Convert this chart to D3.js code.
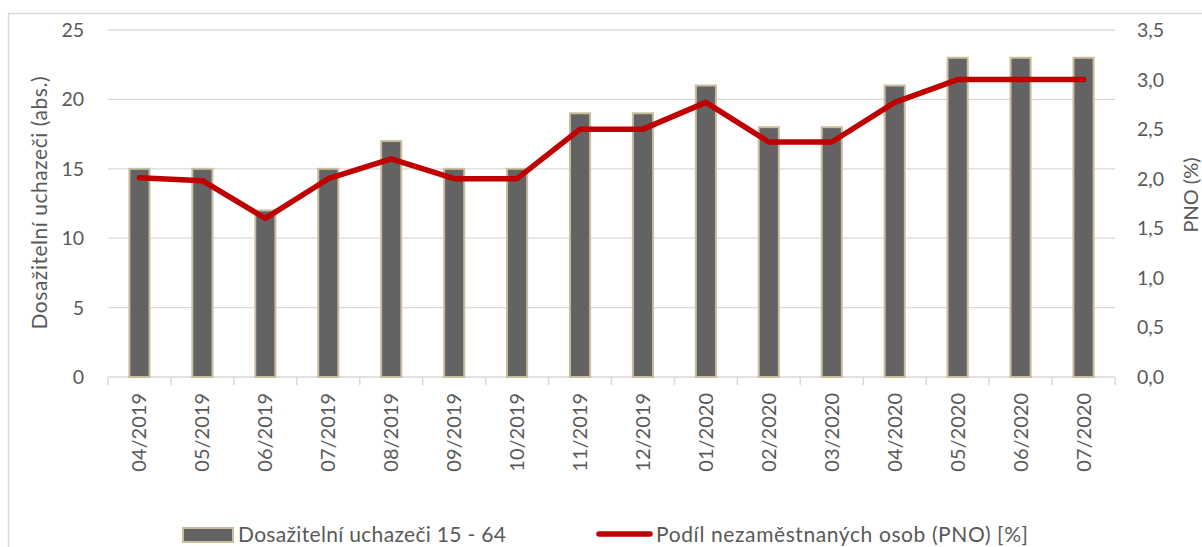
<!DOCTYPE html>
<html>
<head>
<meta charset="utf-8">
<script src="https://cdn.jsdelivr.net/npm/d3@7"></script>
<style>
  body { margin: 0; background: #fff; }
  text { font-family: Lato, "Open Sans", sans-serif; fill: #595959; }
</style>
</head>
<body>
<div id="chart"></div>
<script>
const width = 1202;
const height = 547;

// data
const months = ["04/2019", "05/2019", "06/2019", "07/2019", "08/2019", "09/2019", "10/2019", "11/2019",
  "12/2019", "01/2020", "02/2020", "03/2020", "04/2020", "05/2020", "06/2020", "07/2020"];
const uchazeci = [15, 15, 12, 15, 17, 15, 15, 19, 19, 21, 18, 18, 21, 23, 23, 23];
const pno = [2.01, 1.98, 1.60, 2.0, 2.2, 2.0, 2.0, 2.5, 2.5, 2.77, 2.37, 2.37, 2.77, 3.0, 3.0, 3.0];
const leftTicks = [0, 5, 10, 15, 20, 25];
const rightTicks = [0, 0.5, 1, 1.5, 2, 2.5, 3, 3.5];

// colors
const barFill = "#636363";
const barStroke = "#c9bd9e";
const lineColor = "#c00000";
const gridColor = "#d9d9d9";

const plot = {left: 108, right: 1115, top: 30, bottom: 377};

const x = d3.scaleBand().domain(months).range([plot.left, plot.right])
  .paddingInner(0.68).paddingOuter(0.34);
const y = d3.scaleLinear().domain([0, 25]).range([plot.bottom, plot.top]);
const y2 = d3.scaleLinear().domain([0, 3.5]).range([plot.bottom, plot.top]);

const svg = d3.select("#chart").append("svg")
  .attr("width", width)
  .attr("height", height);

// outer chart border
svg.append("rect")
  .attr("x", 8.5).attr("y", 13.5)
  .attr("width", 1300).attr("height", 600)
  .attr("fill", "none")
  .attr("stroke", gridColor)
  .attr("stroke-width", 1.5);

// gridlines
svg.selectAll(".grid")
  .data(leftTicks.filter(d => d > 0))
  .enter().append("line")
  .attr("x1", plot.left).attr("x2", plot.right)
  .attr("y1", d => y(d)).attr("y2", d => y(d))
  .attr("stroke", gridColor)
  .attr("stroke-width", 1.3);

// x axis line + ticks at band boundaries
svg.append("line")
  .attr("x1", plot.left).attr("x2", plot.right)
  .attr("y1", plot.bottom).attr("y2", plot.bottom)
  .attr("stroke", gridColor).attr("stroke-width", 1.5);

svg.selectAll(".xtick")
  .data(d3.range(months.length + 1))
  .enter().append("line")
  .attr("x1", i => plot.left + i * x.step())
  .attr("x2", i => plot.left + i * x.step())
  .attr("y1", plot.bottom).attr("y2", plot.bottom + 8)
  .attr("stroke", gridColor).attr("stroke-width", 1.5);

// bars
svg.selectAll(".bar")
  .data(uchazeci)
  .enter().append("rect")
  .attr("class", "bar")
  .attr("x", (d, i) => x(months[i]))
  .attr("y", d => y(d))
  .attr("width", x.bandwidth())
  .attr("height", d => y(0) - y(d))
  .attr("fill", barFill)
  .attr("stroke", barStroke)
  .attr("stroke-width", 2);

// PNO line
const line = d3.line()
  .x((d, i) => x(months[i]) + x.bandwidth() / 2)
  .y(d => y2(d));

svg.append("path")
  .datum(pno)
  .attr("d", line)
  .attr("fill", "none")
  .attr("stroke", lineColor)
  .attr("stroke-width", 5.5)
  .attr("stroke-linejoin", "round")
  .attr("stroke-linecap", "round");

// left tick labels
svg.selectAll(".ylab")
  .data(leftTicks)
  .enter().append("text")
  .attr("x", 84)
  .attr("y", d => y(d) + 7)
  .attr("text-anchor", "end")
  .attr("font-size", 19.5)
  .text(d => d);

// right tick labels
const fmt = d3.format(".1f");
svg.selectAll(".y2lab")
  .data(rightTicks)
  .enter().append("text")
  .attr("x", 1137)
  .attr("y", d => y2(d) + 7)
  .attr("text-anchor", "start")
  .attr("font-size", 19.5)
  .text(d => fmt(d).replace(".", ","));

// x labels, rotated
svg.selectAll(".xlab")
  .data(months)
  .enter().append("text")
  .attr("transform", d => "translate(" + (x(d) + x.bandwidth() / 2 + 7) + "," + 393 + ") rotate(-90)")
  .attr("text-anchor", "end")
  .attr("font-size", 20)
  .text(d => d);

// axis titles
svg.append("text")
  .attr("transform", "translate(47,203) rotate(-90)")
  .attr("text-anchor", "middle")
  .attr("font-size", 21)
  .attr("textLength", 253)
  .text("Dosažitelní uchazeči (abs.)");

svg.append("text")
  .attr("transform", "translate(1198,195) rotate(-90)")
  .attr("text-anchor", "middle")
  .attr("font-size", 20)
  .text("PNO (%)");

// legend
svg.append("rect")
  .attr("x", 183).attr("y", 528)
  .attr("width", 50).attr("height", 14)
  .attr("fill", barFill)
  .attr("stroke", barStroke)
  .attr("stroke-width", 2);

svg.append("text")
  .attr("x", 238).attr("y", 542)
  .attr("font-size", 21)
  .attr("textLength", 268)
  .text("Dosažitelní uchazeči 15 - 64");

svg.append("line")
  .attr("x1", 599).attr("x2", 650)
  .attr("y1", 534).attr("y2", 534)
  .attr("stroke", lineColor)
  .attr("stroke-width", 5.5)
  .attr("stroke-linecap", "round");

svg.append("text")
  .attr("x", 656).attr("y", 542)
  .attr("font-size", 21)
  .attr("textLength", 372)
  .text("Podíl nezaměstnaných osob (PNO) [%]");
</script>
</body>
</html>
